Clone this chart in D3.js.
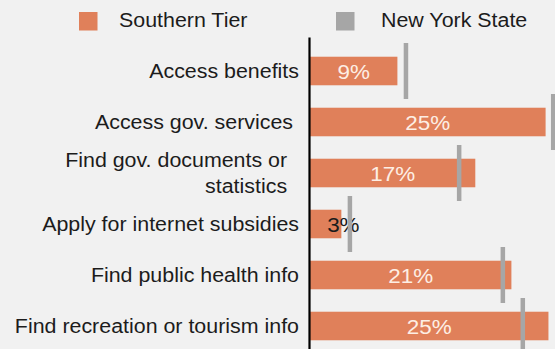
<!DOCTYPE html>
<html>
<head>
<meta charset="utf-8">
<script src="https://cdn.jsdelivr.net/npm/d3@7/dist/d3.min.js"></script>
<style>
  html, body { margin: 0; padding: 0; background: #f1f1f1; }
  svg { display: block; font-family: "Liberation Sans", Arial, sans-serif; }
</style>
</head>
<body>
<svg id="chart" width="555" height="349"></svg>
<script>
// ---- data ----
const categories = [
  "Access benefits",
  "Access gov. services ",
  "Find gov. documents or  \nstatistics  ",
  "Apply for internet subsidies",
  "Find public health info",
  "Find recreation or tourism info"
];
const southernTier = [9.2, 24.8, 17.4, 3.3, 21.2, 25.1];
const newYorkState = [10.1, 25.6, 15.7, 4.2, 20.3, 22.4];
const seriesNames = ["Southern Tier", "New York State"];

// ---- styles ----
const W = 555, H = 349;
const orange = "#e0805a", gray = "#a6a6a6", textColor = "#1c1c1c";
const stretch = 1.07;
const svg = d3.select("#chart");
svg.append("rect").attr("width", W).attr("height", H).attr("fill", "#f1f1f1");

const x = d3.scaleLinear().domain([0, 26]).range([310, 310 + 26 * 9.5]);
const y = d3.scaleBand().domain(d3.range(categories.length)).range([45.5, 351.5]).paddingInner(0.44).paddingOuter(0.22);

// bars
svg.append("g").selectAll("rect").data(southernTier).join("rect")
  .attr("x", x(0))
  .attr("y", (d, i) => y(i))
  .attr("width", d => x(d) - x(0))
  .attr("height", y.bandwidth())
  .attr("fill", orange);

// value labels
const small = d => (x(d) - x(0)) < 40;
svg.append("g").selectAll("text").data(southernTier).join("text")
  .attr("transform", (d, i) => `translate(${small(d) ? x(d) + 2 : (x(0) + x(d)) / 2},${y(i) + y.bandwidth() / 2}) scale(${stretch},1)`)
  .attr("dy", "0.36em")
  .attr("text-anchor", "middle")
  .attr("font-size", 21)
  .attr("fill", d => small(d) ? textColor : "#fdeee4")
  .text(d => Math.round(d) + "%");

// NY markers
const markerLen = 56;
svg.append("g").selectAll("rect").data(newYorkState).join("rect")
  .attr("x", d => x(d) - 2.25)
  .attr("y", (d, i) => y(i) + y.bandwidth() / 2 - markerLen / 2)
  .attr("width", 4.5)
  .attr("height", markerLen)
  .attr("fill", gray);

// axis line (category axis)
const axis = d3.axisLeft(d3.scaleLinear().domain([0, 1]).range([37, H + 2])).ticks(0).tickSize(0).tickFormat("");
svg.append("g").attr("transform", "translate(309,0)").call(axis)
  .call(g => g.select(".domain").attr("stroke", "#000").attr("stroke-width", 2.2));

// category labels
const lab = svg.append("g").attr("font-size", 20).attr("fill", textColor).attr("text-anchor", "end")
  .style("white-space", "pre");
categories.forEach((c, i) => {
  const lines = c.split("\n");
  const cy = y(i) + y.bandwidth() / 2;
  const lh = 26;
  const t = lab.append("text")
    .attr("transform", `translate(299,${cy - (lines.length - 1) * lh / 2}) scale(${stretch},1)`)
    .attr("xml:space", "preserve");
  lines.forEach((l, j) => {
    t.append("tspan").attr("x", 0).attr("dy", j === 0 ? "0.36em" : lh).text(l);
  });
});

// legend
const legend = svg.append("g").attr("font-size", 20).attr("fill", textColor);
const legendItems = [
  {name: seriesNames[0], color: orange, sx: 79, tx: 119},
  {name: seriesNames[1], color: gray, sx: 336, tx: 381}
];
legendItems.forEach(it => {
  legend.append("rect").attr("x", it.sx).attr("y", 12).attr("width", 18.5).attr("height", 18.5).attr("fill", it.color);
  legend.append("text").attr("transform", `translate(${it.tx},20) scale(${stretch},1)`).attr("dy", "0.36em").text(it.name);
});
</script>
</body>
</html>
